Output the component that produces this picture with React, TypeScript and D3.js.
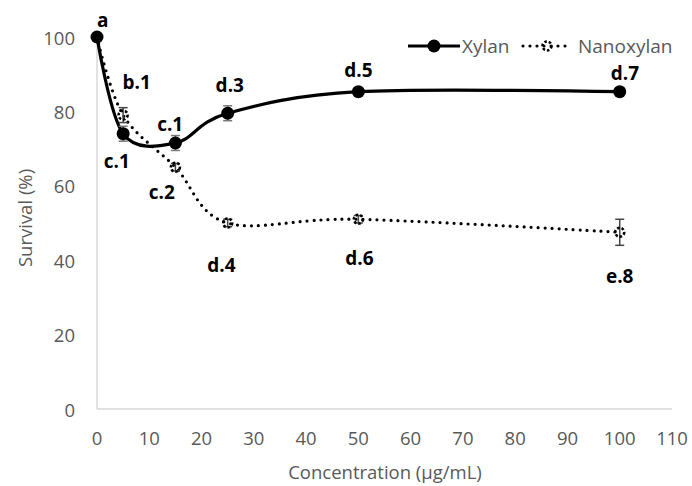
import React, { useRef, useEffect } from 'react';
import * as d3 from 'd3';

// concentrations (µg/mL)
const concentrations = [0, 5, 15, 25, 50, 100];
const xylan = [100, 74, 71.5, 79.5, 85.3, 85.3];
const xylanErr = [0, 2, 2, 2, 0.6, 0.6];
const nanoxylan = [100, 79, 65, 50, 51, 47.5];
const nanoxylanErr = [0, 2, 1, 1, 1, 3.5];

const xTicks = [0, 10, 20, 30, 40, 50, 60, 70, 80, 90, 100, 110];
const yTicks = [0, 20, 40, 60, 80, 100];

// significance letters, placed in data units
const annotations = [
  { text: 'a', x: 1.1, y: 104.6 },
  { text: 'b.1', x: 7.6, y: 88 },
  { text: 'c.1', x: 3.8, y: 66.6 },
  { text: 'c.1', x: 14, y: 76.6 },
  { text: 'c.2', x: 12.4, y: 58.3 },
  { text: 'd.3', x: 25.4, y: 87 },
  { text: 'd.4', x: 23.8, y: 38.7 },
  { text: 'd.5', x: 50, y: 91 },
  { text: 'd.6', x: 50.2, y: 40.5 },
  { text: 'd.7', x: 101, y: 90.2 },
  { text: 'e.8', x: 100, y: 35.7 },
];

const FONT = '"Open Sans", sans-serif';
const GREY = '#595959';

const App = () => {
  const svgRef = useRef<SVGSVGElement>(null);

  useEffect(() => {
    const svg = d3.select(svgRef.current);
    svg.selectAll('*').remove();

    const x = d3.scaleLinear().domain([0, 110]).range([97, 672]);
    const y = d3.scaleLinear().domain([0, 100]).range([409, 37]);

    // axes lines
    svg.append('line')
      .attr('x1', x(0)).attr('x2', x(110))
      .attr('y1', y(0)).attr('y2', y(0))
      .attr('stroke', '#d9d9d9').attr('stroke-width', 1.5);
    svg.append('line')
      .attr('x1', x(0)).attr('x2', x(0))
      .attr('y1', y(0)).attr('y2', y(100))
      .attr('stroke', '#d9d9d9').attr('stroke-width', 1.5);

    svg.selectAll('.xt')
      .data(xTicks)
      .enter()
      .append('text')
      .attr('x', d => x(d))
      .attr('y', 437)
      .attr('text-anchor', 'middle')
      .attr('dominant-baseline', 'central')
      .attr('font-family', FONT)
      .attr('font-size', 18.5)
      .attr('fill', GREY)
      .text(d => d);

    svg.selectAll('.yt')
      .data(yTicks)
      .enter()
      .append('text')
      .attr('x', 75)
      .attr('y', d => y(d))
      .attr('text-anchor', 'end')
      .attr('dominant-baseline', 'central')
      .attr('font-family', FONT)
      .attr('font-size', 18.5)
      .attr('fill', GREY)
      .text(d => d);

    svg.append('text')
      .attr('x', 385).attr('y', 471)
      .attr('text-anchor', 'middle')
      .attr('dominant-baseline', 'central')
      .attr('font-family', FONT)
      .attr('font-size', 18.5)
      .attr('fill', GREY)
      .text('Concentration (µg/mL)');

    svg.append('text')
      .attr('transform', 'translate(24,218) rotate(-90)')
      .attr('text-anchor', 'middle')
      .attr('dominant-baseline', 'central')
      .attr('font-family', FONT)
      .attr('font-size', 18.5)
      .attr('fill', GREY)
      .text('Survival (%)');

    const line = (vals: number[]) => d3.line<number>()
      .x((_, i) => x(concentrations[i]))
      .y(d => y(d))
      .curve(d3.curveCardinal.tension(0))(vals);

    const errorBars = (vals: number[], errs: number[], color: string) => {
      const g = svg.append('g');
      vals.forEach((v, i) => {
        if (!errs[i]) return;
        const cx = x(concentrations[i]);
        const top = y(v + errs[i]);
        const bot = y(v - errs[i]);
        g.append('line').attr('x1', cx).attr('x2', cx).attr('y1', top).attr('y2', bot)
          .attr('stroke', color).attr('stroke-width', 1.5);
        [top, bot].forEach(yy => g.append('line')
          .attr('x1', cx - 4.5).attr('x2', cx + 4.5).attr('y1', yy).attr('y2', yy)
          .attr('stroke', color).attr('stroke-width', 1.5));
      });
    };

    // Nanoxylan (dotted)
    svg.append('path')
      .attr('d', line(nanoxylan))
      .attr('fill', 'none')
      .attr('stroke', '#000')
      .attr('stroke-width', 3.2)
      .attr('stroke-linecap', 'round')
      .attr('stroke-dasharray', '0 7');
    errorBars(nanoxylan, nanoxylanErr, '#444');
    svg.selectAll('.nm')
      .data(nanoxylan)
      .enter()
      .append('circle')
      .attr('cx', (_, i) => x(concentrations[i]))
      .attr('cy', d => y(d))
      .attr('r', 4.5)
      .attr('fill', 'none')
      .attr('stroke', '#000')
      .attr('stroke-width', 2.6)
      .attr('stroke-dasharray', '2.5 2');

    // Xylan (solid)
    svg.append('path')
      .attr('d', line(xylan))
      .attr('fill', 'none')
      .attr('stroke', '#000')
      .attr('stroke-width', 3.2);
    errorBars(xylan, xylanErr, '#777');
    svg.selectAll('.xm')
      .data(xylan)
      .enter()
      .append('circle')
      .attr('cx', (_, i) => x(concentrations[i]))
      .attr('cy', d => y(d))
      .attr('r', 6.5)
      .attr('fill', '#000');

    svg.selectAll('.ann')
      .data(annotations)
      .enter()
      .append('text')
      .attr('x', d => x(d.x))
      .attr('y', d => y(d.y))
      .attr('text-anchor', 'middle')
      .attr('dominant-baseline', 'central')
      .attr('font-family', FONT)
      .attr('font-weight', 'bold')
      .attr('font-size', 19)
      .attr('fill', '#000')
      .text(d => d.text);

    // legend
    const ly = 46;
    const leg = svg.append('g');
    leg.append('line').attr('x1', 408).attr('x2', 460).attr('y1', ly).attr('y2', ly)
      .attr('stroke', '#000').attr('stroke-width', 3.2);
    leg.append('circle').attr('cx', 434).attr('cy', ly).attr('r', 6.5).attr('fill', '#000');
    leg.append('text').attr('x', 462).attr('y', ly)
      .attr('dominant-baseline', 'central')
      .attr('font-family', FONT).attr('font-size', 19).attr('fill', GREY)
      .text('Xylan');
    leg.append('line').attr('x1', 523).attr('x2', 572).attr('y1', ly).attr('y2', ly)
      .attr('stroke', '#000').attr('stroke-width', 3.2)
      .attr('stroke-linecap', 'round').attr('stroke-dasharray', '0 7');
    leg.append('circle').attr('cx', 547).attr('cy', ly).attr('r', 4.5)
      .attr('fill', 'none').attr('stroke', '#000').attr('stroke-width', 2.6)
      .attr('stroke-dasharray', '2.5 2');
    leg.append('text').attr('x', 578).attr('y', ly)
      .attr('dominant-baseline', 'central')
      .attr('font-family', FONT).attr('font-size', 19).attr('fill', GREY)
      .text('Nanoxylan');
  }, []);

  return (
    <svg
      ref={svgRef}
      width={692}
      height={486}
      style={{ position: 'absolute', left: 0, top: 0, background: '#fff', display: 'block' }}
    />
  );
};

export default App;
